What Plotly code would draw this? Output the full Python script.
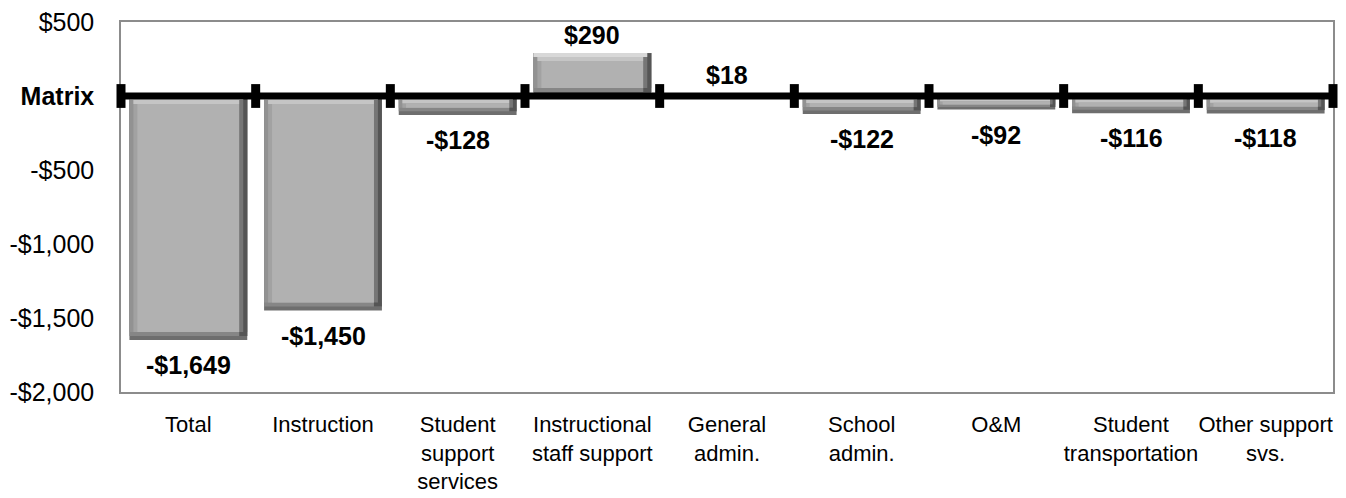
import plotly.graph_objects as go

# Spending difference versus the matrix, per function
categories = ["Total", "Instruction", "Student<br>support<br>services",
              "Instructional<br>staff support", "General<br>admin.", "School<br>admin.",
              "O&M", "Student<br>transportation", "Other support<br>svs."]
values = [-1649, -1450, -128, 290, 18, -122, -92, -116, -118]

y_tick_vals = [500, 0, -500, -1000, -1500, -2000]
y_tick_text = ["$500", "<b>Matrix</b>", "-$500", "-$1,000", "-$1,500", "-$2,000"]

FONT = "Arial, Liberation Sans, sans-serif"
W, H = 1346, 498
M_L, M_R, M_T, M_B = 121, 13, 22, 106
Y_MIN, Y_MAX = -2000, 500
N = len(categories)

# pixel -> data unit conversions used for the bevel layers
px_y = (Y_MAX - Y_MIN) / (H - M_T - M_B)
px_x = N / (W - M_L - M_R)

BAR_W = 0.875
bar_w_px = BAR_W / px_x
x_pos = [i + 0.5 for i in range(N)]

tops = [max(v, 0) for v in values]
bots = [min(v, 0) for v in values]
h_px = [(t - b) / px_y for t, b in zip(tops, bots)]
bevel = [min(8.0, h / 2.6) for h in h_px]

fig = go.Figure()


def add_layer(color, left, right, bottom, top):
    """Draw one shading layer of every bar; insets are functions of the bevel size (px)."""
    xs, ys, bases, widths, offsets = [], [], [], [], []
    for x, t, b, bv in zip(x_pos, tops, bots, bevel):
        l_in, r_in = left(bv), right(bv)
        b_in, t_in = bottom(bv), top(bv)
        y0 = b + b_in * px_y
        y1 = t - t_in * px_y
        if y1 <= y0:
            continue
        xs.append(x)
        bases.append(y0)
        ys.append(y1 - y0)
        widths.append((bar_w_px - l_in - r_in) * px_x)
        offsets.append(-BAR_W / 2 + l_in * px_x)
    fig.add_trace(go.Bar(
        x=xs, y=ys, base=bases, width=widths, offset=offsets,
        marker=dict(color=color, line=dict(width=0)), hoverinfo="skip"))


zero = lambda bv: 0.0
half = lambda bv: 0.5 * bv
full = lambda bv: bv
right_strip = lambda bv: bar_w_px - bv
right_inner = lambda bv: bar_w_px - 0.5 * bv
top_strip = lambda bv: None

# bottom bevel (outer, inner)
add_layer("#6e6e6e", zero, zero, zero, zero)
add_layer("#868686", zero, zero, half, zero)
# left bevel (outer, inner)
add_layer("#929292", zero, zero, full, zero)
add_layer("#a2a2a2", half, zero, full, zero)
# right bevel (outer, inner)
add_layer("#555555", right_strip, zero, half, zero)
add_layer("#767676", right_strip, half, full, zero)


def add_top_layer(color, left, right, t0, t1):
    xs, ys, bases, widths, offsets = [], [], [], [], []
    for x, t, b, bv in zip(x_pos, tops, bots, bevel):
        l_in, r_in = left(bv), right(bv)
        y1 = t - t0(bv) * px_y
        y0 = t - t1(bv) * px_y
        if y1 <= y0:
            continue
        xs.append(x)
        bases.append(y0)
        ys.append(y1 - y0)
        widths.append((bar_w_px - l_in - r_in) * px_x)
        offsets.append(-BAR_W / 2 + l_in * px_x)
    fig.add_trace(go.Bar(
        x=xs, y=ys, base=bases, width=widths, offset=offsets,
        marker=dict(color=color, line=dict(width=0)), hoverinfo="skip"))


# top bevel (outer, inner)
add_top_layer("#d8d8d8", zero, half, zero, half)
add_top_layer("#c5c5c5", half, full, half, full)
# flat face
add_layer("#b1b1b1", full, full, full, full)

# baseline with separators between categories
fig.add_trace(go.Scatter(
    x=list(range(N + 1)), y=[0] * (N + 1), mode="lines+markers",
    line=dict(color="black", width=7),
    marker=dict(symbol="line-ns", size=17, color="black",
                line=dict(color="black", width=9)),
    cliponaxis=False, hoverinfo="skip"))

# value labels
for x, v in zip(x_pos, values):
    txt = ("-$" if v < 0 else "$") + f"{abs(v):,}"
    fig.add_annotation(
        x=x, y=v, text=f"<b>{txt}</b>", showarrow=False,
        yanchor="top" if v < 0 else "bottom",
        yshift=-9 if v < 0 else 2,
        font=dict(family=FONT, size=25, color="black"))

fig.update_layout(
    width=W, height=H, autosize=False,
    margin=dict(l=M_L, r=M_R, t=M_T, b=M_B, pad=0, autoexpand=False),
    paper_bgcolor="white", plot_bgcolor="white",
    barmode="overlay", showlegend=False,
    font=dict(family=FONT, color="black"),
)
fig.update_xaxes(
    range=[0, N], tickmode="array", tickvals=x_pos, ticktext=categories,
    tickfont=dict(family=FONT, size=22, color="black"), tickangle=0, automargin=False,
    showgrid=False, zeroline=False, ticks="", ticklabelstandoff=12, layer="below traces",
    showline=True, mirror=True, linecolor="#8c8c8c", linewidth=1.5)
fig.update_yaxes(
    range=[Y_MIN, Y_MAX], tickmode="array", tickvals=y_tick_vals, ticktext=y_tick_text,
    tickfont=dict(family=FONT, size=25, color="black"), automargin=False,
    showgrid=False, zeroline=False, ticks="", ticklabelstandoff=20, layer="below traces",
    showline=True, mirror=True, linecolor="#8c8c8c", linewidth=1.5)

fig.write_html("out.html")
